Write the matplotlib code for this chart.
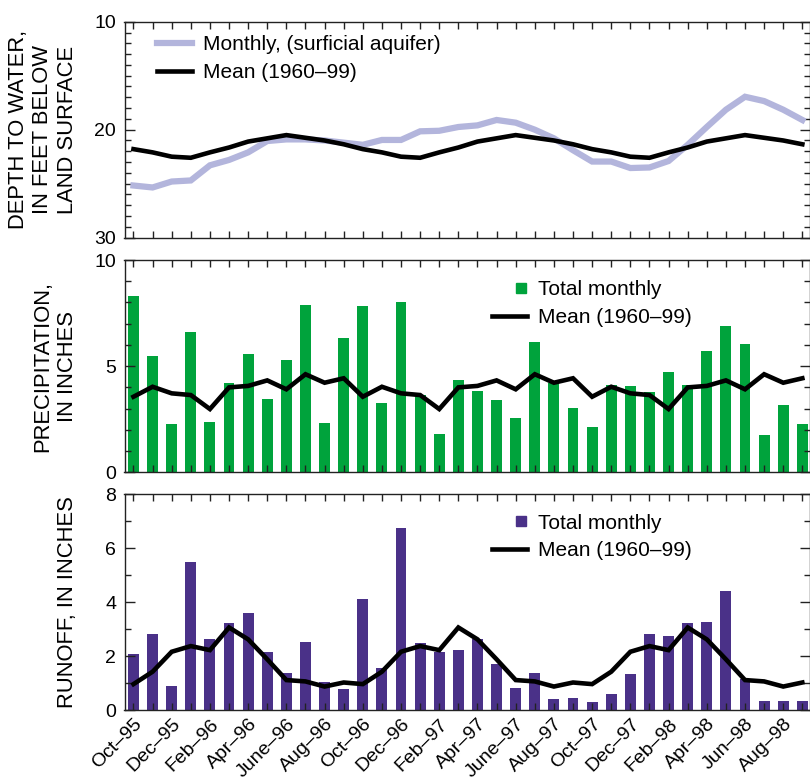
import matplotlib
matplotlib.use('Agg')
import matplotlib.pyplot as plt
from matplotlib.ticker import MultipleLocator, FixedLocator
from matplotlib.lines import Line2D
from matplotlib.legend_handler import HandlerLine2D
import numpy as np

plt.rcParams['font.family'] = ['Liberation Sans', 'DejaVu Sans']

# ---------------- data ----------------
tick_labels = ['Oct\u201395', 'Dec\u201395', 'Feb\u201396', 'Apr\u201396', 'June\u201396', 'Aug\u201396',
               'Oct\u201396', 'Dec\u201396', 'Feb\u201397', 'Apr\u201397', 'June\u201397', 'Aug\u201397',
               'Oct\u201397', 'Dec\u201397', 'Feb\u201398', 'Apr\u201398', 'Jun\u201398', 'Aug\u201398']

water_monthly = [25.17, 25.35, 24.8, 24.7, 23.3, 22.8, 22.1, 21.05, 20.9, 20.9, 21.0, 21.2,
                 21.4, 20.95, 20.95, 20.15, 20.1, 19.75, 19.6, 19.1, 19.35, 20.0, 20.8, 21.9,
                 22.95, 22.95, 23.55, 23.5, 22.9, 21.4, 19.75, 18.15, 16.95, 17.35, 18.15, 19.1]
water_mean = [21.8, 22.1, 22.5, 22.6, 22.1, 21.65, 21.1, 20.8, 20.5, 20.75, 21.0, 21.35,
              21.8, 22.1, 22.5, 22.6, 22.1, 21.65, 21.1, 20.8, 20.5, 20.75, 21.0, 21.35,
              21.8, 22.1, 22.5, 22.6, 22.1, 21.65, 21.1, 20.8, 20.5, 20.75, 21.0, 21.35]

precip_monthly = [8.32, 5.46, 2.26, 6.62, 2.35, 4.21, 5.56, 3.45, 5.31, 7.9, 2.32, 6.31,
                  7.85, 3.25, 8.0, 3.64, 1.82, 4.33, 3.83, 3.41, 2.57, 6.14, 4.22, 3.01,
                  2.15, 4.13, 4.07, 3.77, 4.71, 4.13, 5.73, 6.91, 6.04, 1.74, 3.19, 2.28]
precip_mean = [3.56, 4.03, 3.72, 3.64, 2.98, 4.0, 4.07, 4.33, 3.91, 4.62, 4.22, 4.43,
               3.56, 4.03, 3.72, 3.64, 2.98, 4.0, 4.07, 4.33, 3.91, 4.62, 4.22, 4.43,
               3.56, 4.03, 3.72, 3.64, 2.98, 4.0, 4.07, 4.33, 3.91, 4.62, 4.22, 4.43]

runoff_monthly = [2.07, 2.81, 0.88, 5.5, 2.62, 3.21, 3.59, 2.15, 1.38, 2.53, 1.04, 0.79,
                  4.12, 1.56, 6.75, 2.49, 2.15, 2.22, 2.65, 1.69, 0.83, 1.37, 0.41, 0.43,
                  0.31, 0.59, 1.32, 2.8, 2.75, 3.23, 3.28, 4.42, 1.15, 0.33, 0.35, 0.33]
runoff_mean = [0.96, 1.42, 2.16, 2.37, 2.22, 3.06, 2.62, 1.88, 1.11, 1.06, 0.87, 1.02,
               0.96, 1.42, 2.16, 2.37, 2.22, 3.06, 2.62, 1.88, 1.11, 1.06, 0.87, 1.02,
               0.96, 1.42, 2.16, 2.37, 2.22, 3.06, 2.62, 1.88, 1.11, 1.06, 0.87, 1.02]

LIGHT = '#b3b5dc'
GREEN = '#00a33c'
PURPLE = '#4a3188'

x = np.arange(len(water_monthly))

fig = plt.figure(figsize=(8.1, 7.78), dpi=100)
L = 124.5 / 810
W = 1.0 - L
ax1 = fig.add_axes([L, 0.6945, W, 0.2776])
ax2 = fig.add_axes([L, 0.3929, W, 0.2729])
ax3 = fig.add_axes([L, 0.0874, W, 0.2773])


class RightMarker(HandlerLine2D):
    def get_xdata(self, legend, xdescent, ydescent, width, height, fontsize):
        xd = np.array([-xdescent + 0.64 * width, -xdescent + width])
        return xd, xd


def style(ax):
    ax.set_xlim(-0.47, 35.4)
    ax.xaxis.set_major_locator(FixedLocator(x[::2]))
    ax.xaxis.set_minor_locator(FixedLocator(x[1::2]))
    ax.tick_params(axis='x', which='both', direction='in', top=True, bottom=True,
                   length=5, width=1, color='#222222')
    ax.tick_params(axis='y', which='major', direction='in', left=True, right=True,
                   length=7, width=1, labelsize=14, pad=6, color='#222222')
    ax.tick_params(axis='y', which='minor', direction='in', left=True, right=True,
                   length=4, width=1, color='#222222')
    for s in ax.spines.values():
        s.set_linewidth(1.0)
        s.set_color('#222222')


LEG = dict(loc='upper left', frameon=False, fontsize=15, handlelength=1.7,
           handletextpad=0.5, labelspacing=0.42, borderpad=0, borderaxespad=0)

# ---- panel 1 ----
ax1.plot(x, water_monthly, color=LIGHT, lw=4.5, solid_joinstyle='miter')
ax1.plot(x, water_mean, color='black', lw=3.3, solid_joinstyle='miter')
ax1.set_ylim(30, 10)
ax1.yaxis.set_major_locator(MultipleLocator(10))
ax1.yaxis.set_minor_locator(MultipleLocator(1))
style(ax1)
ax1.set_xticklabels([])
ax1.set_ylabel('DEPTH TO WATER,\nIN FEET BELOW\nLAND SURFACE', fontsize=15.8, linespacing=1.22)
ax1.yaxis.set_label_coords(-0.068, 0.5)
h1 = [Line2D([], [], color=LIGHT, lw=4.5), Line2D([], [], color='black', lw=3.3)]
ax1.legend(h1, ['Monthly, (surficial aquifer)', 'Mean (1960\u201399)'],
           bbox_to_anchor=(0.047, 0.937), **LEG)

# ---- panel 2 ----
ax2.bar(x, precip_monthly, width=0.57, color=GREEN)
ax2.plot(x, precip_mean, color='black', lw=3.3, solid_joinstyle='miter')
ax2.set_ylim(0, 10)
ax2.yaxis.set_major_locator(MultipleLocator(5))
ax2.yaxis.set_minor_locator(MultipleLocator(1))
style(ax2)
ax2.set_xticklabels([])
ax2.set_ylabel('PRECIPITATION,\nIN INCHES', fontsize=15.8, linespacing=1.22)
ax2.yaxis.set_label_coords(-0.068, 0.5)
sq2 = Line2D([], [], color=GREEN, marker='s', ls='none', markersize=7.5)
h2 = [sq2, Line2D([], [], color='black', lw=3.3)]
ax2.legend(h2, ['Total monthly', 'Mean (1960\u201399)'],
           bbox_to_anchor=(0.536, 0.905), numpoints=1,
           handler_map={sq2: RightMarker(numpoints=1)}, **LEG)

# ---- panel 3 ----
ax3.bar(x, runoff_monthly, width=0.57, color=PURPLE)
ax3.plot(x, runoff_mean, color='black', lw=3.3, solid_joinstyle='miter')
ax3.set_ylim(0, 8)
ax3.yaxis.set_major_locator(MultipleLocator(2))
ax3.yaxis.set_minor_locator(MultipleLocator(1))
style(ax3)
ax3.set_xticklabels(tick_labels, rotation=45, ha='right', va='top',
                    rotation_mode='anchor', fontsize=14)
ax3.tick_params(axis='x', which='major', pad=4)
ax3.set_ylabel('RUNOFF, IN INCHES', fontsize=15.8)
ax3.yaxis.set_label_coords(-0.068, 0.5)
sq3 = Line2D([], [], color=PURPLE, marker='s', ls='none', markersize=7.5)
h3 = [sq3, Line2D([], [], color='black', lw=3.3)]
ax3.legend(h3, ['Total monthly', 'Mean (1960\u201399)'],
           bbox_to_anchor=(0.536, 0.91), numpoints=1,
           handler_map={sq3: RightMarker(numpoints=1)}, **LEG)

fig.savefig('out.png', dpi=100)
